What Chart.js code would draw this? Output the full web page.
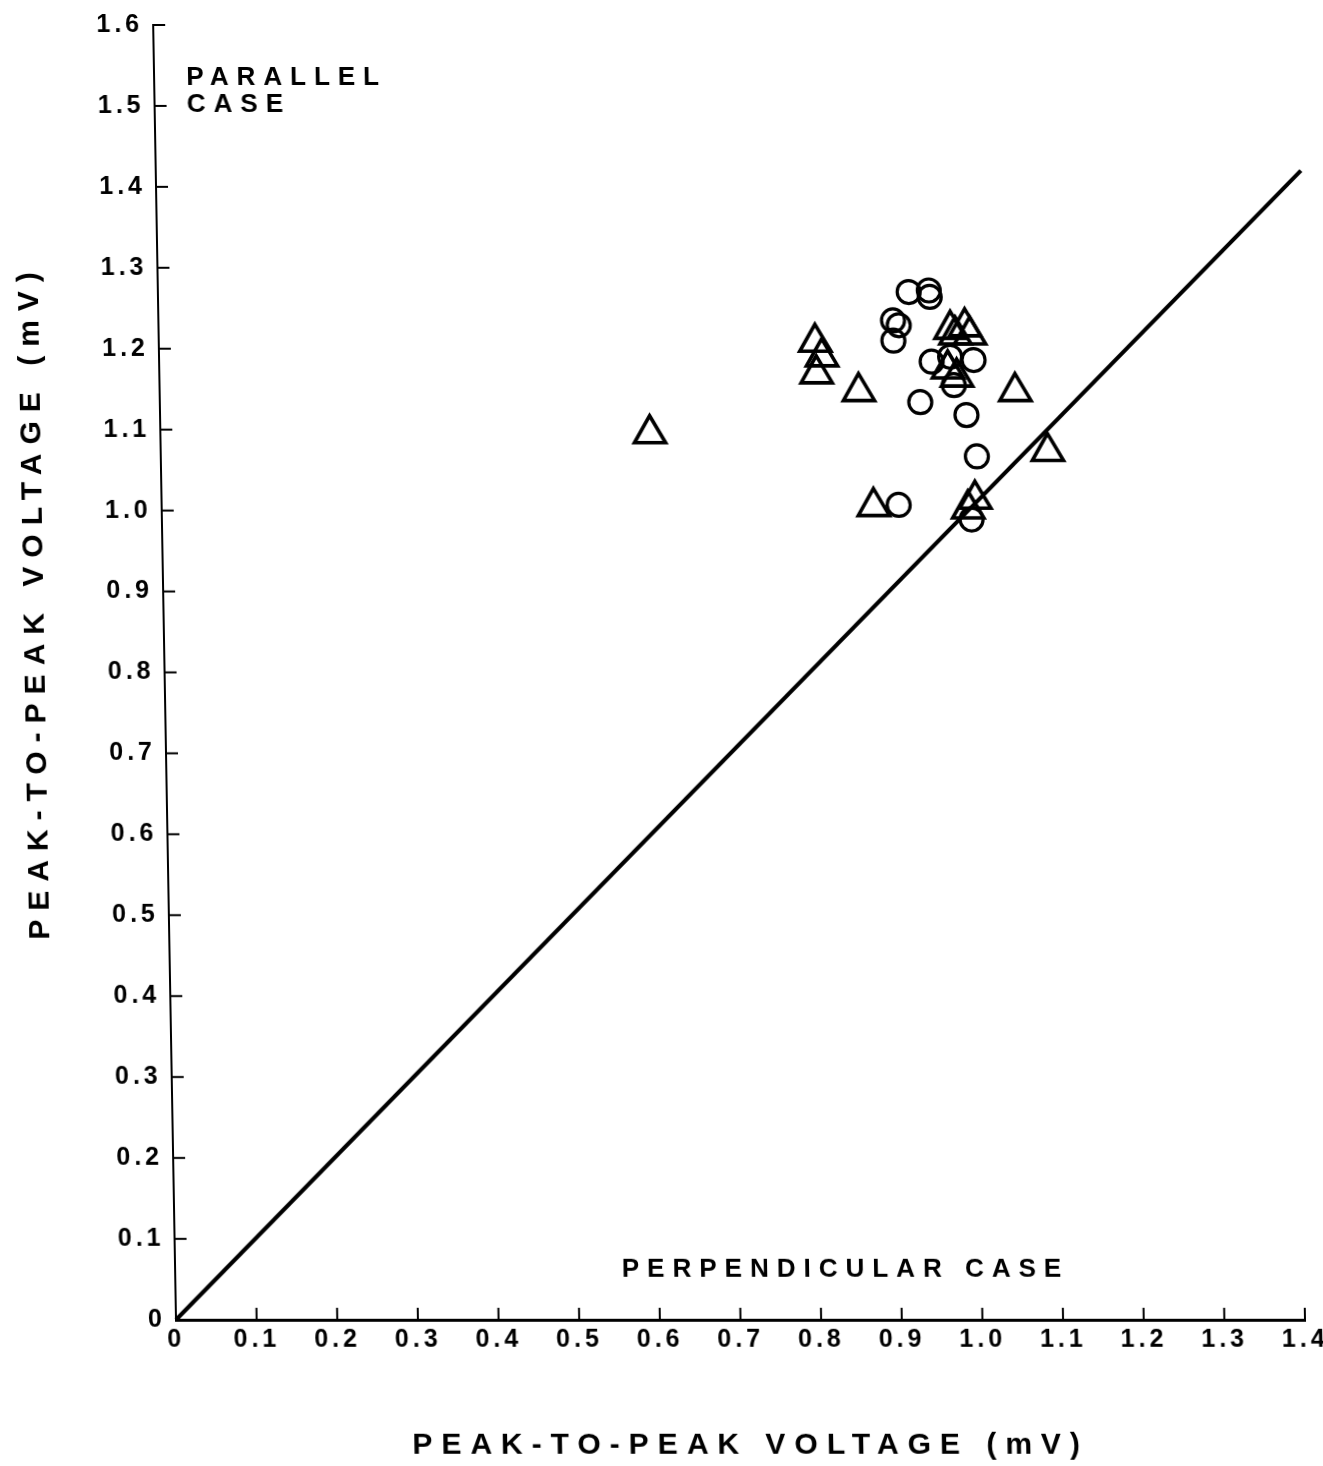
<!DOCTYPE html>
<html><head><meta charset="utf-8">
<script src="https://cdn.jsdelivr.net/npm/chart.js@4.4.1/dist/chart.umd.min.js"></script>
<style>
html,body{margin:0;padding:0;background:#fff;overflow:hidden;width:1323px;height:1466px;}
#wrap{position:relative;width:1360px;height:1466px;}
canvas{display:block;transform:skewX(1.01deg);transform-origin:176px 1320px;}
</style></head><body>
<div id="wrap"><canvas id="c" width="1360" height="1466"></canvas></div>
<script>
// ---- data ----
const circleX = [0.931, 0.956, 0.957, 0.911, 0.918, 0.911, 0.958, 0.981, 1.010, 0.985, 0.943, 1.000, 1.012, 0.914, 1.004];
const circleY = [1.270, 1.272, 1.264, 1.235, 1.229, 1.210, 1.184, 1.190, 1.186, 1.155, 1.134, 1.118, 1.067, 1.007, 0.989];
const triangleX = [0.814, 0.822, 0.815, 0.867, 0.883, 0.982, 1.000, 0.988, 1.006, 0.978, 0.989, 1.061, 1.100, 1.009, 1.000, 0.607];
const triangleY = [1.208, 1.190, 1.169, 1.147, 1.005, 1.224, 1.227, 1.217, 1.217, 1.175, 1.165, 1.147, 1.073, 1.014, 1.002, 1.095];
const diagonalX = [0, 1.42];
const diagonalY = [0, 1.42];
const xTickValues = [0,0.1,0.2,0.3,0.4,0.5,0.6,0.7,0.8,0.9,1.0,1.1,1.2,1.3,1.4];
const yTickValues = [0,0.1,0.2,0.3,0.4,0.5,0.6,0.7,0.8,0.9,1.0,1.1,1.2,1.3,1.4,1.5,1.6];
const xAxisTitle = 'PEAK-TO-PEAK VOLTAGE (mV)';
const yAxisTitle = 'PEAK-TO-PEAK VOLTAGE (mV)';
const parallelLabel = ['PARALLEL', 'CASE'];
const perpendicularLabel = 'PERPENDICULAR CASE';

const toPts = (xs, ys) => xs.map((v, i) => ({x: v, y: ys[i]}));
const FONT = '"Liberation Sans", Arial, Helvetica, sans-serif';
const fmt = v => (Math.abs(v) < 1e-9 ? '0' : Number(v).toFixed(1));

const deco = {
  id: 'deco',
  beforeDraw(chart) { chart.ctx.letterSpacing = '4px'; },
  afterDraw(chart) {
    const {ctx, chartArea: a, scales: {x, y}} = chart;
    ctx.save();
    ctx.strokeStyle = '#000';
    ctx.lineWidth = 2;
    xTickValues.forEach(v => {
      if (v === 0) return;
      const px = x.getPixelForValue(v);
      ctx.beginPath(); ctx.moveTo(px, a.bottom); ctx.lineTo(px, a.bottom - 12); ctx.stroke();
    });
    yTickValues.forEach(v => {
      if (v === 0) return;
      const py = y.getPixelForValue(v);
      ctx.beginPath(); ctx.moveTo(a.left, py); ctx.lineTo(a.left + 12, py); ctx.stroke();
    });
    // annotations
    ctx.fillStyle = '#000';
    ctx.font = 'bold 26px ' + FONT;
    ctx.letterSpacing = '8px';
    ctx.textAlign = 'left';
    ctx.textBaseline = 'middle';
    ctx.fillText(parallelLabel[0], x.getPixelForValue(0.040), y.getPixelForValue(1.535));
    ctx.fillText(parallelLabel[1], x.getPixelForValue(0.040), y.getPixelForValue(1.501));
    ctx.fillText(perpendicularLabel, x.getPixelForValue(0.554), y.getPixelForValue(0.062));
    // axis titles
    ctx.font = 'bold 30px ' + FONT;
    ctx.letterSpacing = '9px';
    ctx.textAlign = 'center';
    ctx.fillText(xAxisTitle, (a.left + a.right) / 2 + 8, a.bottom + 126);
    ctx.translate(48, (a.top + a.bottom) / 2 - 67);
    ctx.rotate(-Math.PI / 2);
    ctx.fillText(yAxisTitle, 4, 0);
    ctx.restore();
  }
};

new Chart(document.getElementById('c'), {
  type: 'scatter',
  data: {
    datasets: [
      {
        label: 'diagonal', type: 'line', data: toPts(diagonalX, diagonalY),
        borderColor: '#000', borderWidth: 4, pointRadius: 0, fill: false, clip: false, order: 3
      },
      {
        label: 'circles', data: toPts(circleX, circleY),
        pointStyle: 'circle', pointRadius: 11.5, pointBorderWidth: 3.2,
        borderColor: '#000', backgroundColor: 'rgba(0,0,0,0)', clip: false, order: 1
      },
      {
        label: 'triangles', data: toPts(triangleX, triangleY),
        pointStyle: 'triangle', pointRadius: 18, pointBorderWidth: 3.6,
        borderColor: '#000', backgroundColor: 'rgba(0,0,0,0)', clip: false, order: 2
      }
    ]
  },
  options: {
    responsive: false,
    animation: false,
    layout: {padding: {top: 22, right: 55, left: 0, bottom: 0}},
    plugins: {legend: {display: false}, tooltip: {enabled: false}},
    scales: {
      x: {
        type: 'linear', min: 0, max: 1.4,
        afterFit(s) { s.height = 146; },
        afterBuildTicks(s) { s.ticks = xTickValues.map(v => ({value: v})); },
        grid: {display: false, drawTicks: false},
        border: {display: true, color: '#000', width: 3},
        ticks: {color: '#000', padding: 5, font: {family: FONT, size: 25, weight: 'bold'}, maxRotation: 0, autoSkip: false, callback: v => fmt(v)}
      },
      y: {
        type: 'linear', min: 0, max: 1.6,
        afterFit(s) { s.width = 176; },
        afterBuildTicks(s) { s.ticks = yTickValues.map(v => ({value: v})); },
        grid: {display: false, drawTicks: false},
        border: {display: true, color: '#000', width: 2},
        ticks: {color: '#000', padding: 10, font: {family: FONT, size: 25, weight: 'bold'}, autoSkip: false, callback: v => fmt(v)}
      }
    }
  },
  plugins: [deco]
});
</script>
</body></html>
